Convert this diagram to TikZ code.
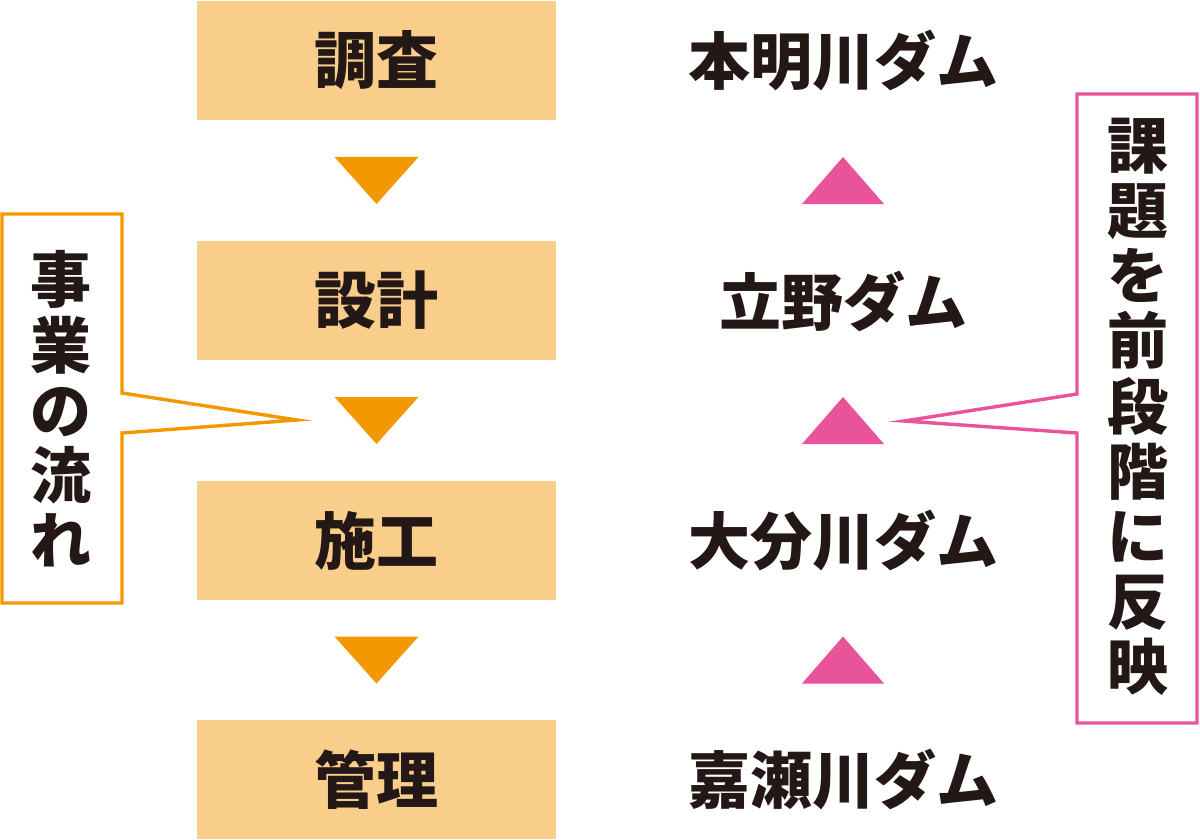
\documentclass[tikz,border=0pt]{standalone}
\usepackage{fontspec}
\setmainfont{Noto Sans CJK JP}
\usetikzlibrary{calc}
\definecolor{boxfill}{HTML}{F9CD8A}
\definecolor{orangeC}{HTML}{F39800}
\definecolor{pinkC}{HTML}{E8539A}
\definecolor{inkC}{HTML}{231815}
\tikzset{
  stagebox/.style={fill=boxfill, draw=none, minimum width=179.5pt, minimum height=59.5pt, inner sep=0pt, text=inkC, font=\bfseries\fontsize{31pt}{32.5pt}\selectfont},
  damlabel/.style={inner sep=0pt, text=inkC, font=\bfseries\fontsize{31pt}{32.5pt}\selectfont},
  vlabel/.style={inner sep=0pt, align=center, text=inkC, font=\bfseries\fontsize{30.5pt}{32.6pt}\selectfont},
  downtri/.style={fill=orangeC, draw=none},
  uptri/.style={fill=pinkC, draw=none},
  orangecallout/.style={draw=orangeC, line width=1.7pt, fill=white},
  pinkcallout/.style={draw=pinkC, line width=1.7pt, fill=white},
}
\begin{document}
\begin{tikzpicture}[x=0.5pt,y=-0.5pt]
\useasboundingbox (0,0) rectangle (1200,840);
% stage boxes
\node[stagebox] (s1) at (376.5,60.5) {調査};
\node[stagebox] (s2) at (376.5,300.5) {設計};
\node[stagebox] (s3) at (376.5,540.5) {施工};
\node[stagebox] (s4) at (376.5,779.5) {管理};
% dam labels
\node[damlabel] (d1) at (843,61) {本明川ダム};
\node[damlabel] (d2) at (843,301) {立野ダム};
\node[damlabel] (d3) at (843,541) {大分川ダム};
\node[damlabel] (d4) at (843,780) {嘉瀬川ダム};
% down triangles between stages
\foreach \a/\b in {s1/s2,s2/s3,s3/s4}{
  \coordinate (m) at ($(\a.south)!0.5!(\b.north)$);
  \fill[downtri] ($(m)+(-42,-23.5)$) -- ($(m)+(42,-23.5)$) -- ($(m)+(0,23.5)$) -- cycle;
}
% up triangles between dams
\foreach \a/\b in {s1/s2,s2/s3,s3/s4}{
  \coordinate (m) at ($(\a.south)!0.5!(\b.north)$);
  \coordinate (mm) at (843,0);
  \fill[uptri] ($(mm|-m)+(-41,23.5)$) -- ($(mm|-m)+(41,23.5)$) -- ($(mm|-m)+(0,-23.5)$) -- cycle;
}
% left callout
\coordinate (ltip) at (297,420);
\draw[orangecallout, line join=miter] (2,214) -- (122,214) -- (122,393) -- (ltip) -- (122,433) -- (122,603) -- (2,603) -- cycle;
\node[vlabel] (lc) at (61,409) {事\\業\\の\\流\\れ};
% right callout
\coordinate (rtip) at (904,421);
\draw[pinkcallout, line join=miter] (1077,94) -- (1197,94) -- (1197,723) -- (1077,723) -- (1077,433) -- (rtip) -- (1077,394) -- cycle;
\node[vlabel] (rc) at (1138,407) {課\\題\\を\\前\\段\\階\\に\\反\\映};
\end{tikzpicture}
\end{document}
